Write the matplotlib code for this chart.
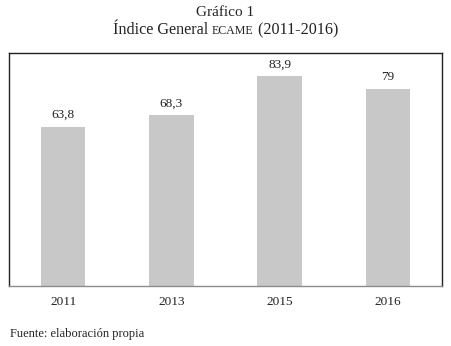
import matplotlib
matplotlib.use("Agg")
import matplotlib.pyplot as plt

years = ["2011", "2013", "2015", "2016"]
values = [63.8, 68.3, 83.9, 79]
value_labels = ["63,8", "68,3", "83,9", "79"]

plt.rcParams["font.family"] = ["Liberation Serif", "DejaVu Serif"]

W, H = 451, 346
fig = plt.figure(figsize=(W / 100, H / 100), dpi=100)
ax = fig.add_axes([9 / W, 1 - 286 / H, 433 / W, 233 / H])

x = range(len(years))
ax.bar(x, values, width=0.41, color="#c8c8c9", zorder=2)
for xi, v, lab in zip(x, values, value_labels):
    ax.annotate(lab, (xi, v), xytext=(0, 4), textcoords="offset points",
                ha="center", va="bottom", fontsize=9.5, color="#222222")

ax.set_xlim(-0.5, len(years) - 0.5)
ax.set_ylim(0, 93.3)
ax.set_yticks([])
ax.set_xticks(list(x))
ax.set_xticklabels(years, fontsize=9.5, color="#222222")
ax.tick_params(axis="x", length=0, pad=7)
for side in ("left", "top", "right"):
    ax.spines[side].set_color("#222222")
    ax.spines[side].set_linewidth(1.0)
ax.spines["bottom"].set_color("#8c8c8c")
ax.spines["bottom"].set_linewidth(1.0)

fig.text(0.5, 1 - 13 / H, "Gráfico 1", ha="center", va="center",
         fontsize=11, color="#222222")

# Second title line with small-caps acronym
parts = [("Índice General ", 11.6), ("ECAME", 8.6), (" (2011-2016)", 11.6)]
fig.canvas.draw()
renderer = fig.canvas.get_renderer()
texts = []
for s, fs in parts:
    t = fig.text(0, 1 - 30 / H, s, ha="left", va="baseline", fontsize=fs,
                 color="#222222")
    texts.append(t)
widths = [t.get_window_extent(renderer).width for t in texts]
total = sum(widths)
xpos = (W - total) / 2
ybase = 1 - 34 / H
for t, w in zip(texts, widths):
    t.set_position((xpos / W, ybase))
    xpos += w

fig.text(10 / W, 1 - 334 / H, "Fuente: elaboración propia", ha="left",
         va="center", fontsize=9, color="#222222")

fig.savefig("out.png", dpi=100)
